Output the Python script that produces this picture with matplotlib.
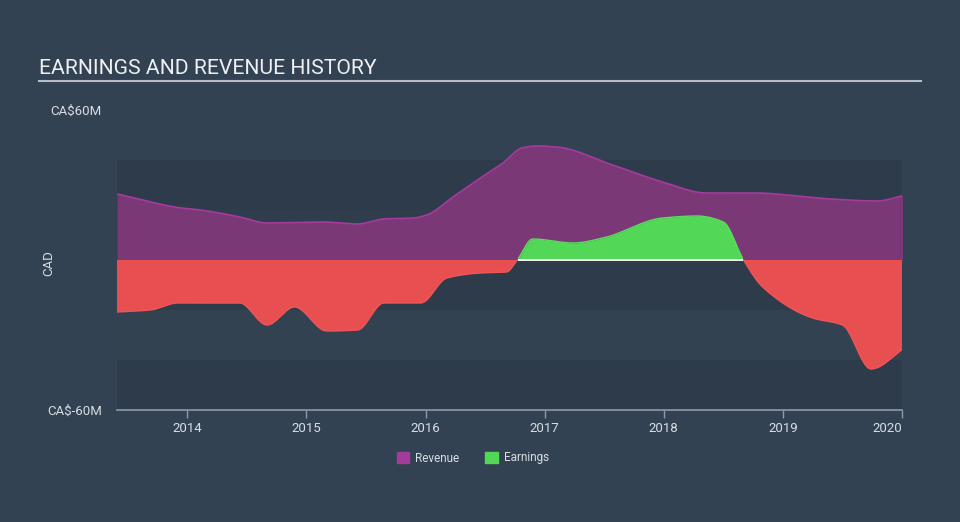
import numpy as np
import matplotlib.pyplot as plt
from matplotlib.patches import Patch

plt.rcParams['font.family'] = ['Roboto', 'DejaVu Sans']

# values (CA$ millions)
rev_years = [2013.41, 2013.95, 2014.11, 2014.44, 2014.67, 2015.14, 2015.43, 2015.65,
             2015.90, 2016.01, 2016.23, 2016.46, 2016.65, 2016.81, 2016.93, 2017.10,
             2017.57, 2017.99, 2018.36, 2018.78, 2019.12, 2019.40, 2019.79, 2020.03]
revenue = [26.4, 20.8, 20.0, 17.2, 14.8, 15.2, 14.4, 16.4,
           16.8, 18.0, 25.2, 32.8, 38.8, 44.8, 45.6, 45.2,
           38.0, 31.2, 26.8, 26.8, 25.6, 24.4, 23.6, 26.0]

earn_years = [2013.41, 2013.69, 2013.92, 2014.44, 2014.67, 2014.90, 2015.17, 2015.43,
              2015.65, 2015.96, 2016.18, 2016.46, 2016.68, 2016.77, 2016.90, 2017.24,
              2017.49, 2017.99, 2018.28, 2018.50, 2018.67, 2018.83, 2019.25, 2019.50,
              2019.74, 2020.03]
earnings = [-20.8, -20.0, -17.2, -17.2, -26.0, -18.8, -28.4, -28.0,
            -17.2, -17.2, -7.2, -5.2, -4.8, 0.0, 8.4, 6.8,
            8.8, 16.8, 17.6, 15.2, 0.0, -10.8, -23.2, -26.0,
            -43.6, -34.8]

years = [2014, 2015, 2016, 2017, 2018, 2019, 2020]
legend_names = ['Revenue', 'Earnings']


def smooth(xs, ys, n=600):
    # monotone cubic (Fritsch-Carlson) just for drawing
    xs = np.asarray(xs, float)
    ys = np.asarray(ys, float)
    h = np.diff(xs)
    d = np.diff(ys) / h
    m = np.zeros_like(ys)
    m[0], m[-1] = d[0], d[-1]
    for i in range(1, len(xs) - 1):
        if d[i - 1] * d[i] > 0:
            w1 = 2 * h[i] + h[i - 1]
            w2 = h[i] + 2 * h[i - 1]
            m[i] = (w1 + w2) / (w1 / d[i - 1] + w2 / d[i])
    xx = np.linspace(xs[0], xs[-1], n)
    k = np.clip(np.searchsorted(xs, xx) - 1, 0, len(xs) - 2)
    t = (xx - xs[k]) / h[k]
    h00 = 2 * t**3 - 3 * t**2 + 1
    h10 = t**3 - 2 * t**2 + t
    h01 = -2 * t**3 + 3 * t**2
    h11 = t**3 - t**2
    yy = h00 * ys[k] + h10 * h[k] * m[k] + h01 * ys[k + 1] + h11 * h[k] * m[k + 1]
    return xx, yy


bg = '#334252'
fig = plt.figure(figsize=(9.6, 5.22), dpi=100, facecolor=bg)
ax = fig.add_axes([117 / 960, 1 - 410 / 522, 785 / 960, 300 / 522])
ax.set_facecolor(bg)

# horizontal bands
ax.axhspan(20, 40, color='#2d3b4b', lw=0, zorder=0)
ax.axhspan(0, 20, color='#2f3d4d', lw=0, zorder=0)
ax.axhspan(-20, 0, color='#2d3b4b', lw=0, zorder=0)
ax.axhspan(-40, -20, color='#334251', lw=0, zorder=0)
ax.axhspan(-60, -40, color='#2d3b4b', lw=0, zorder=0)

rx, ry = smooth(rev_years, revenue)
ax.fill_between(rx, 0, ry, color='#7b3876', lw=0, zorder=2)
ax.plot(rx, ry, color='#a83a9f', lw=1.2, zorder=3)

ex, ey = smooth(earn_years, earnings)
ax.fill_between(ex, 0, ey, where=ey <= 0, interpolate=True, color='#e84f50', lw=0, zorder=4)
ax.fill_between(ex, 0, ey, where=ey >= 0, interpolate=True, color='#52d756', lw=0, zorder=4)
ax.plot(ex, np.where(ey < 0, ey, np.nan), color='#f0555a', lw=1, zorder=5)
ax.plot(ex, np.where(ey > 0, ey, np.nan), color='#58e05c', lw=1, zorder=5)
ax.plot(ex, np.where(ey >= 0, 0, np.nan), color='white', lw=1.3, zorder=6)

ax.set_xlim(rev_years[0], 2020.0)
ax.set_ylim(-60, 60)

for s in ['top', 'right', 'left']:
    ax.spines[s].set_visible(False)
ax.spines['bottom'].set_color('#8d9aab')
ax.spines['bottom'].set_linewidth(1.2)

ax.set_xticks(years)
ax.set_xticklabels([str(y) for y in years])
ax.tick_params(axis='x', colors='#8d9aab', length=6, width=1, labelcolor='#d8dde3',
               labelsize=9.5, pad=3)
ax.get_xticklabels()[-1].set_horizontalalignment('right')

ax.set_yticks([-60, 60])
ax.set_yticklabels([r'CA\$-60M', r'CA\$60M'])
ax.tick_params(axis='y', length=0, pad=11, labelcolor='#d8dde3', labelsize=9.5)
ax.set_ylabel('CAD', color='#d8dde3', fontsize=9.5)
ax.yaxis.set_label_coords(-62 / 785, 0.49)

fig.text(39 / 960, 1 - 68 / 522, 'EARNINGS AND REVENUE HISTORY', color='#eef0f3',
         fontsize=15.2, va='center', ha='left')
fig.add_artist(plt.Line2D([39 / 960, 921 / 960], [1 - 81 / 522, 1 - 81 / 522],
                          color='#b5bcc5', lw=1.5))

handles = [Patch(color='#a33c98'), Patch(color='#52d756')]
fig.legend(handles, legend_names, loc='center', bbox_to_anchor=(473 / 960, 1 - 458 / 522),
           ncol=2, frameon=False, fontsize=8.5, labelcolor='#d8dde3', handlelength=1.1,
           handleheight=1.1, handletextpad=0.5, columnspacing=2.2)

fig.savefig('out.png', dpi=100, facecolor=bg)
